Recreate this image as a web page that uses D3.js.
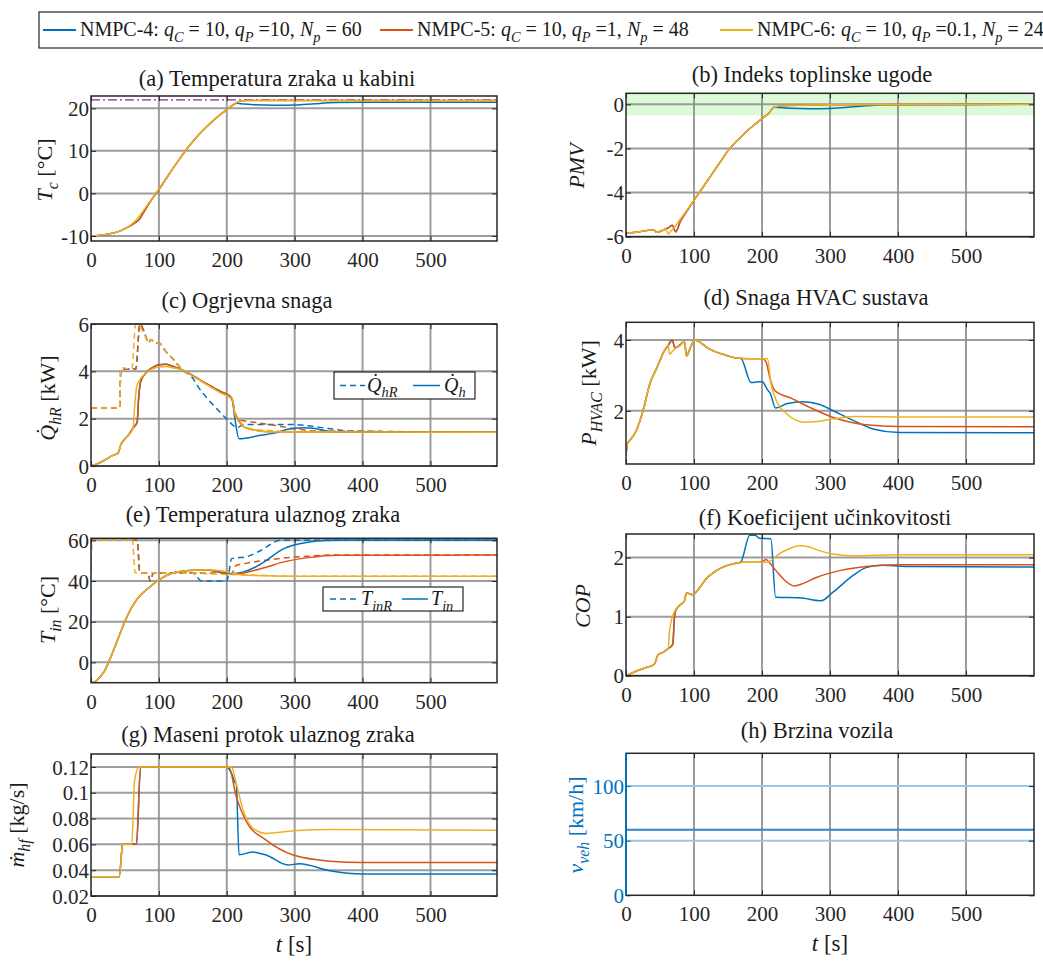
<!DOCTYPE html>
<html><head><meta charset="utf-8">
<script src="https://cdn.jsdelivr.net/npm/d3@7"></script>
<style>body{margin:0;background:#fff;} text{font-family:"Liberation Serif","Times New Roman",serif;}</style>
</head><body><svg id="c" width="1043" height="961"></svg>
<script>
// ---------------- DATA ----------------
const timeTicks = [0,100,200,300,400,500];
const seriesNames = ["NMPC-4","NMPC-5","NMPC-6"];
const qC = ["10","10","10"], qP = ["10","1","0.1"], Np = ["60","48","24"];

// (a) cabin temperature
const cabinT_t6 = [0,20,40,50,60,65,70,80,90,100,110,120,130,140,150,160,170,180,190,200,210,215,220,230,600];
const cabinT_v6 = [-10,-9.7,-9.0,-8.3,-7.2,-6.5,-5.6,-3.4,-1.2,1.0,3.3,5.7,8.0,10.2,12.2,14.0,15.6,17.1,18.5,19.7,20.9,21.4,21.7,21.85,21.85];
const cabinT_t5 = [0,20,40,50,60,65,70,80,90,100,110,120,130,140,150,160,170,180,190,200,210,215,220,230,600];
const cabinT_v5 = [-10,-9.7,-9.0,-8.3,-7.4,-6.9,-6.3,-3.8,-1.3,0.9,3.3,5.7,8.0,10.2,12.2,14.0,15.6,17.1,18.5,19.7,20.9,21.4,21.7,21.85,21.85];
const cabinT_t4 = [0,20,40,50,60,65,70,80,90,100,110,120,130,140,150,160,170,180,190,200,210,215,225,240,270,300,330,360,400,600];
const cabinT_v4 = [-10,-9.7,-9.0,-8.3,-7.4,-6.9,-6.3,-3.8,-1.3,0.9,3.3,5.7,8.0,10.2,12.2,14.0,15.6,17.1,18.5,19.7,20.9,21.2,21.0,20.85,20.75,20.8,21.1,21.35,21.45,21.45];
const cabinSetpoint = 22;
const cabinTicks = [-10,0,10,20];

// (b) PMV
const pmv_t6 = [0,20,40,45,55,58,62,66,70,80,90,100,110,120,130,140,150,160,170,180,190,200,210,218,230,260,300,600];
const pmv_v6 = [-5.85,-5.78,-5.68,-5.8,-5.7,-5.62,-5.88,-5.75,-5.62,-5.2,-4.78,-4.35,-3.9,-3.45,-3.0,-2.55,-2.1,-1.75,-1.45,-1.15,-0.9,-0.65,-0.4,-0.13,-0.07,-0.04,-0.02,0];
const pmv_t5 = [0,20,40,45,55,62,68,73,80,90,100,110,120,130,140,150,160,170,180,190,200,210,218,230,260,300,600];
const pmv_v5 = [-5.85,-5.78,-5.68,-5.8,-5.7,-5.6,-5.48,-5.78,-5.3,-4.82,-4.35,-3.9,-3.45,-3.0,-2.55,-2.1,-1.75,-1.45,-1.15,-0.9,-0.65,-0.4,-0.13,-0.07,-0.04,-0.02,0];
const pmv_t4 = [0,20,40,45,55,62,68,73,80,90,100,110,120,130,140,150,160,170,180,190,200,210,218,240,270,300,340,380,600];
const pmv_v4 = [-5.85,-5.78,-5.68,-5.8,-5.7,-5.6,-5.48,-5.78,-5.3,-4.82,-4.35,-3.9,-3.45,-3.0,-2.55,-2.1,-1.75,-1.45,-1.15,-0.9,-0.65,-0.4,-0.13,-0.18,-0.2,-0.19,-0.1,-0.02,0];
const comfortBand = [-0.5,0.5];
const pmvTicks = [-6,-4,-2,0];

// (c) heating power: reference (dashed) and actual (solid)
const qhr_t6 = [0,1,42,44,60,66,70,78,85,88,95,100,110,120,130,135,150,170,190,205,208,212,217,225,240,260,300,600];
const qhr_v6 = [2.0,2.45,2.45,4.15,4.1,6.0,5.95,5.6,5.2,5.35,5.2,5.2,4.85,4.55,4.2,4.05,3.8,3.45,3.15,2.9,2.85,2.2,1.95,1.7,1.55,1.5,1.45,1.43];
const qhr_t5 = [0,1,42,44,66,72,78,85,88,95,100,110,120,130,135,150,170,190,205,208,212,218,240,270,300,330,600];
const qhr_v5 = [2.0,2.45,2.45,4.1,4.1,6.0,5.7,5.2,5.35,5.2,5.2,4.85,4.55,4.2,4.05,3.8,3.45,3.15,2.9,2.8,2.3,1.95,1.85,1.72,1.58,1.48,1.43];
const qhr_t4 = [0,1,42,44,66,72,78,85,88,95,100,110,120,130,135,150,156,170,186,201,208,215,225,260,300,320,350,380,600];
const qhr_v4 = [2.0,2.45,2.45,4.1,4.1,6.0,5.7,5.2,5.35,5.2,5.2,4.85,4.55,4.2,4.05,3.7,3.42,2.9,2.4,1.95,1.75,1.62,1.75,1.75,1.75,1.7,1.58,1.48,1.43];
const qh_t6 = [0,10,20,30,40,44,50,55,62,64,67,71,80,90,100,111,120,135,150,170,190,205,208,212,218,225,240,260,600];
const qh_v6 = [0,0.1,0.25,0.42,0.55,0.9,1.15,1.3,1.6,2.4,3.3,3.6,3.9,4.1,4.18,4.2,4.15,4.05,3.8,3.45,3.1,2.9,2.85,2.2,1.85,1.65,1.52,1.45,1.43];
const qh_t5 = [0,10,20,30,40,44,50,55,62,68,70,73,80,90,100,110,120,135,150,170,190,205,208,212,218,225,240,260,600];
const qh_v5 = [0,0.1,0.25,0.42,0.55,0.9,1.15,1.3,1.6,1.85,2.8,3.55,3.9,4.15,4.28,4.3,4.22,4.05,3.82,3.48,3.16,2.95,2.8,2.2,1.9,1.65,1.52,1.45,1.43];
const qh_t4 = [0,10,20,30,40,44,50,55,62,68,70,73,80,90,100,110,120,135,150,170,190,205,208,212,218,250,275,290,313,330,350,380,600];
const qh_v4 = [0,0.1,0.25,0.42,0.55,0.9,1.15,1.3,1.6,1.85,2.8,3.55,3.9,4.15,4.28,4.3,4.22,4.05,3.82,3.48,3.16,2.95,2.8,2.0,1.15,1.3,1.42,1.55,1.62,1.58,1.47,1.43,1.43];
const heatTicks = [0,2,4,6];

// (d) HVAC power
const p_t6 = [0,2,5,15,25,35,45,50,55,62,64,70,80,86,89,95,101,105,110,118,130,147,160,172,190,208,213,221,236,250,261,281,304,334,400,600];
const p_v6 = [0.73,1.07,1.15,1.44,2.0,2.76,3.2,3.42,3.65,3.85,3.6,3.72,3.85,3.95,3.55,3.8,4.0,3.98,3.92,3.8,3.68,3.57,3.5,3.48,3.47,3.47,2.8,2.29,1.92,1.74,1.68,1.70,1.77,1.84,1.83,1.83];
const p_t5 = [0,2,5,15,25,35,45,50,55,62,68,72,80,86,89,95,101,105,110,118,130,147,160,172,190,200,203,206,212,219,245,270,304,330,353,402,600];
const p_v5 = [0.73,1.07,1.15,1.44,2.0,2.76,3.2,3.42,3.65,3.85,4.0,3.78,3.87,3.95,3.55,3.8,4.0,3.98,3.92,3.8,3.68,3.57,3.5,3.48,3.47,3.47,3.45,3.38,2.9,2.57,2.34,2.1,1.82,1.68,1.61,1.56,1.55];
const p_t4 = [0,2,5,15,25,35,45,50,55,62,68,72,80,86,89,95,101,105,110,118,130,147,160,169,184,195,201,205,208,212,220,236,261,285,304,334,363,402,600];
const p_v4 = [0.73,1.07,1.15,1.44,2.0,2.76,3.2,3.42,3.65,3.85,4.0,3.78,3.87,3.95,3.55,3.8,4.0,3.98,3.92,3.8,3.68,3.57,3.5,3.48,2.8,2.82,2.82,2.7,2.6,2.5,2.08,2.2,2.26,2.18,2.01,1.73,1.49,1.39,1.38];
const powerTicks = [2,4];

// (e) inlet air temperature: reference (dashed) and actual (solid)
const tin_t6 = [0,5,10,15,20,25,30,40,51,60,70,80,87,100,118,140,157,170,185,200,215,240,300,600];
const tin_v6 = [-10,-9.6,-8.4,-6.5,-4.2,-0.6,3.3,11.8,20.9,27,32,35.2,37.2,40.5,43.7,45,45.3,45.5,45.3,44.5,43.3,42.7,42.4,42.4];
const tin_t5 = [0,5,10,15,20,25,30,40,51,60,70,80,87,100,118,140,157,170,185,200,215,240,260,284,320,362,600];
const tin_v5 = [-10,-9.6,-8.4,-6.5,-4.2,-0.6,3.3,11.8,20.9,27,32,35.2,37.2,40.5,43.7,45,45.3,45.5,44.8,44,43.6,45.2,47,49.4,51.5,52.7,52.8];
const tin_t4 = [0,5,10,15,20,25,30,40,51,60,70,80,87,100,118,140,157,170,185,206,225,240,255,284,313,333,360,600];
const tin_v4 = [-10,-9.6,-8.4,-6.5,-4.2,-0.6,3.3,11.8,20.9,27,32,35.2,37.2,40.5,43.7,45,45.3,45.5,44.6,43.6,44.5,46.5,49.4,55.9,58.7,59.7,60,60];
const tinR_t6 = [0,1,61,65,80,150,200,250,290,600];
const tinR_v6 = [45,60,60,44,44,43.8,43.2,42.8,42.4,42.4];
const tinR_t5 = [0,1,68,72,84,87,92,150,200,207,213,230,260,284,320,360,600];
const tinR_v5 = [45,60,60,44,44,40,43.8,44,44,43.5,47.5,48.8,50.3,51.3,52.2,52.8,52.8];
const tinR_t4 = [0,1,68,72,84,87,92,150,156,163,200,203,207,230,250,279,600];
const tinR_v4 = [45,60,60,44,44,40,43.8,44,42,40,40,44,51,52,55,60,60];
const tinTicks = [0,20,40,60];

// (f) COP
const cop_t6 = [0,10,20,30,40,42,47,55,62,64,67,72,80,86,89,98,110,118,130,147,160,172,190,205,212,225,240,255,270,279,304,333,400,600];
const cop_v6 = [0,0.05,0.1,0.14,0.18,0.2,0.35,0.4,0.46,0.75,0.95,1.1,1.2,1.27,1.4,1.37,1.52,1.64,1.76,1.86,1.9,1.92,1.92,1.92,1.94,2.06,2.15,2.2,2.18,2.14,2.06,2.03,2.05,2.05];
const cop_t5 = [0,10,20,30,40,42,47,55,62,67,69,71,73,80,86,89,98,110,118,130,147,160,172,190,200,206,212,225,235,247,260,279,314,353,400,600];
const cop_v5 = [0,0.05,0.1,0.14,0.18,0.2,0.35,0.4,0.46,0.5,0.55,0.95,1.1,1.2,1.27,1.4,1.37,1.52,1.64,1.76,1.86,1.9,1.92,1.92,1.93,1.97,1.9,1.72,1.6,1.52,1.56,1.66,1.78,1.85,1.88,1.88];
const cop_t4 = [0,10,20,30,40,42,47,55,62,67,69,71,73,80,86,89,98,110,118,130,147,160,165,169,182,190,196,213,220,255,287,304,333,353,377,420,600];
const cop_v4 = [0,0.05,0.1,0.14,0.18,0.2,0.35,0.4,0.46,0.5,0.55,0.95,1.1,1.2,1.27,1.4,1.37,1.52,1.64,1.76,1.86,1.9,1.91,1.93,2.38,2.38,2.33,2.32,1.33,1.32,1.27,1.41,1.69,1.83,1.87,1.85,1.84];
const copTicks = [0,1,2];

// (g) inlet air mass flow
const m_t6 = [0,41.7,46.6,60,64.3,71,200,207,214,224,239,258,298,352,600];
const m_v6 = [0.035,0.035,0.06,0.06,0.11,0.12,0.12,0.12,0.107,0.0865,0.0723,0.0685,0.0705,0.0715,0.071];
const m_t5 = [0,41.7,46.6,67,73,200,203,214,229,258,298,352,401,600];
const m_v5 = [0.035,0.035,0.06,0.06,0.12,0.12,0.12,0.0968,0.0775,0.0633,0.0517,0.047,0.046,0.046];
const m_t4 = [0,41.7,46.6,67,73,200,207,212,214,218,239,258,290,307,352,401,600];
const m_v4 = [0.035,0.035,0.06,0.06,0.12,0.12,0.115,0.108,0.107,0.052,0.054,0.0517,0.044,0.045,0.0395,0.037,0.037];
const flowTicks = [0.02,0.04,0.06,0.08,0.1,0.12];
const flowTickLabels = ["0.02","0.04","0.06","0.08","0.1","0.12"];

// (h) vehicle speed
const speed_t = [0,600];
const speedActual = [60,60];
const speedUpper = [100,100];
const speedLower = [50,50];
const speedTicks = [0,50,100];

// ---------------- DRAWING ----------------
const C4 = "#0072BD", C5 = "#D95319", C6 = "#EDB120";
const svg = d3.select("#c");
svg.append("rect").attr("width",1043).attr("height",961).attr("fill","#fff");
const FS = 21;

function rich(sel, parts, fs){
  let shifted = false;
  parts.forEach(p=>{
    const ts = sel.append("tspan").text(p[0]);
    if(p[1]) ts.attr("font-style","italic");
    if(p[2]){ ts.attr("font-size", fs*0.72); if(!shifted){ts.attr("dy", fs*0.28); shifted=true;} }
    else if(shifted){ ts.attr("dy", -fs*0.28); shifted=false; }
  });
}

function zip(t,v){ return t.map((d,i)=>[d,v[i]]); }

let clipId = 0;
function panel(p){
  const x = d3.scaleLinear().domain(p.xd).range([p.l,p.r]);
  const y = d3.scaleLinear().domain(p.yd).range([p.b,p.t]);
  const id = "clip"+(clipId++);
  svg.append("clipPath").attr("id",id).append("rect")
    .attr("x",p.l).attr("y",p.t).attr("width",p.r-p.l).attr("height",p.b-p.t);
  const g = svg.append("g");
  if(p.band){
    g.append("rect").attr("x",p.l).attr("width",p.r-p.l)
      .attr("y",y(p.band[1])).attr("height",y(p.band[0])-y(p.band[1]))
      .attr("fill","#dcf9d8");
  }
  const gg = g.append("g").attr("stroke","#8c8c8c").attr("stroke-width",2).attr("stroke-opacity",0.85);
  timeTicks.forEach(t=>{ if(t>p.xd[0]) gg.append("line").attr("x1",x(t)).attr("x2",x(t)).attr("y1",p.t).attr("y2",p.b); });
  if(!p.noYGrid) p.yTicks.forEach(v=>{ gg.append("line").attr("x1",p.l).attr("x2",p.r).attr("y1",y(v)).attr("y2",y(v)); });
  const line = d3.line().x(d=>x(d[0])).y(d=>y(d[1])).curve(d3.curveMonotoneX);
  const sg = g.append("g").attr("clip-path",`url(#${id})`);
  p.series.forEach(s=>{
    sg.append("path").attr("d",line(zip(s.t,s.v))).attr("fill","none")
      .attr("stroke",s.c).attr("stroke-width",s.w||1.5)
      .attr("stroke-dasharray",s.dash||null).attr("stroke-opacity",s.o||1)
      .attr("stroke-linejoin","round");
  });
  const tickCol = "#262626";
  const xa = d3.axisBottom(x).tickValues(timeTicks).tickSizeInner(-5).tickSizeOuter(0).tickPadding(11).tickFormat(d3.format("d"));
  const ax = g.append("g").attr("transform",`translate(0,${p.b})`).call(xa);
  const xt = d3.axisTop(x).tickValues(timeTicks).tickSizeInner(-5).tickSizeOuter(0).tickFormat("");
  const axt = g.append("g").attr("transform",`translate(0,${p.t})`).call(xt);
  const ya = d3.axisLeft(y).tickValues(p.yTicks).tickSizeInner(-5).tickSizeOuter(0).tickPadding(2)
    .tickFormat(p.yFmt || (d=>String(d)));
  const ay = g.append("g").attr("transform",`translate(${p.l},0)`).call(ya);
  const yr = d3.axisRight(y).tickValues(p.yTicks).tickSizeInner(-5).tickSizeOuter(0).tickFormat("");
  const ayr = g.append("g").attr("transform",`translate(${p.r},0)`).call(yr);
  [ax,axt,ay,ayr].forEach(a=>{ a.select(".domain").remove(); a.selectAll("line").attr("stroke",tickCol).attr("stroke-width",1);
    a.selectAll("text").attr("font-family","Liberation Serif").attr("font-size",FS).attr("fill","#262626"); });
  ay.selectAll("text").attr("dy","0.34em");
  ax.selectAll("text").attr("dy","0.71em");
  g.append("rect").attr("x",p.l).attr("y",p.t).attr("width",p.r-p.l).attr("height",p.b-p.t)
    .attr("fill","none").attr("stroke",tickCol).attr("stroke-width",1.5);
  if(p.yColor){
    ay.selectAll("line").attr("stroke",p.yColor);
    ay.selectAll("text").attr("fill",p.yColor);
    g.append("line").attr("x1",p.l).attr("x2",p.l).attr("y1",p.t).attr("y2",p.b).attr("stroke",p.yColor).attr("stroke-width",1.8);
  }
  svg.append("text").attr("x",p.tx).attr("y",p.ty).attr("text-anchor","middle")
    .attr("font-size",22.5).attr("fill","#1a1a1a").text(p.title);
  const yl = svg.append("text").attr("transform",`translate(${p.ylx},${p.yly}) rotate(-90)`)
    .attr("text-anchor","middle").attr("font-size",22).attr("fill",p.yColor||"#1a1a1a");
  rich(yl, p.ylabel, 22);
  if(p.xlabel){
    const xl = svg.append("text").attr("x",(p.l+p.r)/2).attr("y",p.b+56).attr("text-anchor","middle").attr("font-size",23).attr("fill","#1a1a1a");
    rich(xl, [["t",true],[" [s]"]], 23);
  }
  return {x,y,g};
}

const L = {l:91, r:497, xd:[0,598]};
const R = {l:626, r:1034, xd:[0,600]};

panel({...L, t:96, b:241, yd:[-11.2,22.9], yTicks:cabinTicks,
  series:[
    {t:speed_t, v:[cabinSetpoint,cabinSetpoint], c:"#7E2F8E", dash:"9,3,2,3", w:1.2},
    {t:cabinT_t4,v:cabinT_v4,c:C4},{t:cabinT_t5,v:cabinT_v5,c:C5},{t:cabinT_t6,v:cabinT_v6,c:C6}],
  title:"(a) Temperatura zraka u kabini", tx:277, ty:86,
  ylabel:[["T",true],["c",true,true],[" [°C]"]], ylx:52, yly:170});

panel({...R, t:93.3, b:236.7, yd:[-6,0.5], yTicks:pmvTicks, band:comfortBand,
  series:[{t:pmv_t4,v:pmv_v4,c:C4},{t:pmv_t5,v:pmv_v5,c:C5},{t:pmv_t6,v:pmv_v6,c:C6}],
  title:"(b) Indeks toplinske ugode", tx:812, ty:82,
  ylabel:[["PMV",true]], ylx:584, yly:166});

panel({...L, t:324, b:466, yd:[0,6], yTicks:heatTicks,
  series:[
    {t:qhr_t4,v:qhr_v4,c:C4,dash:"6,4"},{t:qhr_t5,v:qhr_v5,c:C5,dash:"6,4"},{t:qhr_t6,v:qhr_v6,c:C6,dash:"6,4"},
    {t:qh_t4,v:qh_v4,c:C4},{t:qh_t5,v:qh_v5,c:C5},{t:qh_t6,v:qh_v6,c:C6}],
  title:"(c) Ogrjevna snaga", tx:247, ty:308,
  ylabel:[["Q\u0307",true],["hR",true,true],[" [kW]"]], ylx:55, yly:398});

panel({...R, t:322.3, b:464, yd:[0.5,4.5], yTicks:powerTicks,
  series:[{t:p_t4,v:p_v4,c:C4},{t:p_t5,v:p_v5,c:C5},{t:p_t6,v:p_v6,c:C6}],
  title:"(d) Snaga HVAC sustava", tx:816, ty:305,
  ylabel:[["P",true],["HVAC",true,true],[" [kW]"]], ylx:596, yly:393});

panel({...L, t:538.3, b:682.7, yd:[-10,61], yTicks:tinTicks,
  series:[
    {t:tinR_t4,v:tinR_v4,c:C4,dash:"6,4"},{t:tinR_t5,v:tinR_v5,c:C5,dash:"6,4"},{t:tinR_t6,v:tinR_v6,c:C6,dash:"6,4"},
    {t:tin_t4,v:tin_v4,c:C4},{t:tin_t5,v:tin_v5,c:C5},{t:tin_t6,v:tin_v6,c:C6}],
  title:"(e) Temperatura ulaznog zraka", tx:263, ty:522,
  ylabel:[["T",true],["in",true,true],[" [°C]"]], ylx:55, yly:610});

panel({...R, t:534, b:675.7, yd:[0,2.4], yTicks:copTicks,
  series:[{t:cop_t4,v:cop_v4,c:C4},{t:cop_t5,v:cop_v5,c:C5},{t:cop_t6,v:cop_v6,c:C6}],
  title:"(f) Koeficijent učinkovitosti", tx:825, ty:525,
  ylabel:[["COP",true]], ylx:590, yly:606});

panel({...L, t:754, b:896, yd:[0.02,0.13], yTicks:flowTicks, yFmt:(d,i)=>flowTickLabels[i],
  series:[{t:m_t4,v:m_v4,c:C4},{t:m_t5,v:m_v5,c:C5},{t:m_t6,v:m_v6,c:C6}],
  title:"(g) Maseni protok ulaznog zraka", tx:268, ty:742,
  ylabel:[["ṁ",true],["hf",true,true],[" [kg/s]"]], ylx:24, yly:825, xlabel:true});

panel({...R, t:753.3, b:895.3, yd:[0,130], yTicks:speedTicks, noYGrid:true, yColor:C4,
  series:[{t:speed_t,v:speedUpper,c:"#99c7e5",w:2},{t:speed_t,v:speedLower,c:"#99c7e5",w:2},{t:speed_t,v:speedActual,c:"#2f86c8",w:2}],
  title:"(h) Brzina vozila", tx:817, ty:738,
  ylabel:[["v",true],["veh",true,true],[" [km/h]"]], ylx:583, yly:825, xlabel:true});

function smallLegend(bx,by,bw,bh,items){
  svg.append("rect").attr("x",bx).attr("y",by).attr("width",bw).attr("height",bh).attr("fill","#fff").attr("stroke","#262626").attr("stroke-width",1.2);
  items.forEach(it=>{
    svg.append("line").attr("x1",it.x1).attr("x2",it.x2).attr("y1",by+bh/2).attr("y2",by+bh/2)
      .attr("stroke",C4).attr("stroke-width",1.5).attr("stroke-dasharray",it.dash||null);
    const t = svg.append("text").attr("x",it.tx).attr("y",by+bh/2+6).attr("font-size",20).attr("fill","#1a1a1a");
    rich(t, it.label, 20);
  });
}
smallLegend(334,372,141,27,[
  {x1:340,x2:365,dash:"6,4",tx:367,label:[["Q\u0307",true],["hR",true,true]]},
  {x1:413,x2:440,tx:444,label:[["Q\u0307",true],["h",true,true]]}]);
smallLegend(323,587,140,24,[
  {x1:330,x2:357,dash:"6,4",tx:361,label:[["T",true],["inR",true,true]]},
  {x1:402,x2:428,tx:431,label:[["T",true],["in",true,true]]}]);

svg.append("rect").attr("x",39).attr("y",12).attr("width",1020).attr("height",36).attr("fill","#fff").attr("stroke","#262626").attr("stroke-width",1.2);
const legX = [43,380,720];
[C4,C5,C6].forEach((c,i)=>{
  svg.append("line").attr("x1",legX[i]).attr("x2",legX[i]+33).attr("y1",30).attr("y2",30).attr("stroke",c).attr("stroke-width",2);
  const t = svg.append("text").attr("x",legX[i]+37).attr("y",36).attr("font-size",20).attr("fill","#1a1a1a");
  rich(t, [[seriesNames[i]+": "],["q",true],["C",true,true],[" = "+qC[i]+", "],["q",true],["P",true,true],[" ="+qP[i]+", "],["N",true],["p",true,true],[" = "+Np[i]]], 20);
});
</script></body></html>
